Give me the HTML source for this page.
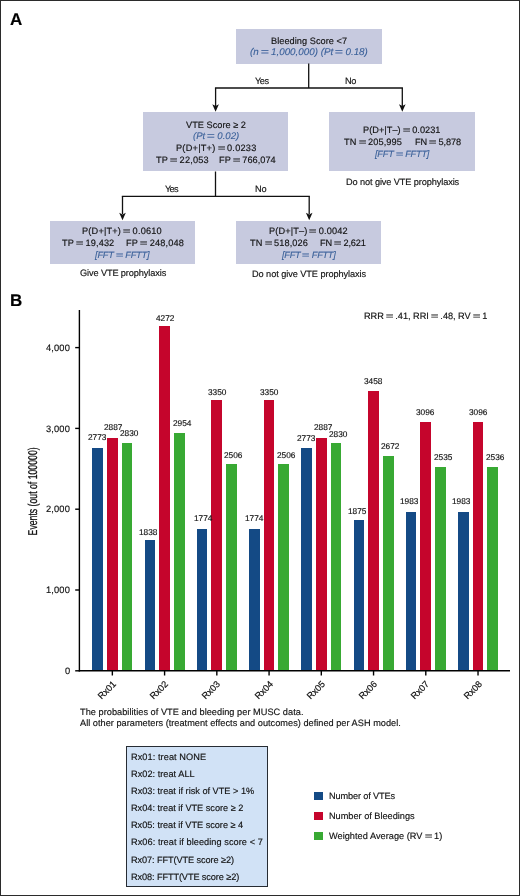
<!DOCTYPE html>
<html><head><meta charset="utf-8"><style>
html,body{margin:0;padding:0;background:#fff;}
#c{position:relative;width:520px;height:896px;overflow:hidden;background:#fff;font-family:'Liberation Sans', sans-serif;}
.t{position:absolute;white-space:pre;line-height:1;will-change:transform;text-rendering:geometricPrecision;-webkit-text-stroke:0.15px currentColor;}
.r{position:absolute;}
.eq{display:inline-block;text-align:center;letter-spacing:0;}
.eq>i{display:inline-block;font-style:normal;transform:scaleX(1.45);}
.u{position:absolute;white-space:pre;-webkit-text-stroke:0.2px currentColor;text-rendering:geometricPrecision;filter:grayscale(1);}
#f{position:absolute;left:0;top:0;width:520px;height:896px;box-sizing:border-box;border:1px solid #2b2b2b;}
svg{position:absolute;left:0;top:0;}
</style></head><body><div id="c">
<div class="r" style="left:236.00px;top:29.30px;width:145.50px;height:34.30px;background:#c7cadf;"></div>
<div class="r" style="left:143.00px;top:112.30px;width:145.00px;height:59.20px;background:#c7cadf;"></div>
<div class="r" style="left:329.00px;top:112.30px;width:145.60px;height:59.20px;background:#c7cadf;"></div>
<div class="r" style="left:50.00px;top:221.00px;width:145.00px;height:42.80px;background:#c7cadf;"></div>
<div class="r" style="left:236.00px;top:221.00px;width:145.00px;height:42.80px;background:#c7cadf;"></div>
<div class="r" style="left:92.30px;top:448.00px;width:10.70px;height:222.80px;background:#144a85;"></div>
<div class="r" style="left:107.00px;top:438.10px;width:10.70px;height:232.70px;background:#c5052c;"></div>
<div class="r" style="left:121.70px;top:442.50px;width:10.70px;height:228.30px;background:#38a933;"></div>
<div class="r" style="left:144.54px;top:539.90px;width:10.70px;height:130.90px;background:#144a85;"></div>
<div class="r" style="left:159.24px;top:325.80px;width:10.70px;height:345.00px;background:#c5052c;"></div>
<div class="r" style="left:173.94px;top:432.60px;width:10.70px;height:238.20px;background:#38a933;"></div>
<div class="r" style="left:196.78px;top:529.00px;width:10.70px;height:141.80px;background:#144a85;"></div>
<div class="r" style="left:211.48px;top:400.20px;width:10.70px;height:270.60px;background:#c5052c;"></div>
<div class="r" style="left:226.18px;top:463.90px;width:10.70px;height:206.90px;background:#38a933;"></div>
<div class="r" style="left:249.02px;top:529.00px;width:10.70px;height:141.80px;background:#144a85;"></div>
<div class="r" style="left:263.72px;top:400.20px;width:10.70px;height:270.60px;background:#c5052c;"></div>
<div class="r" style="left:278.42px;top:464.00px;width:10.70px;height:206.80px;background:#38a933;"></div>
<div class="r" style="left:301.26px;top:448.00px;width:10.70px;height:222.80px;background:#144a85;"></div>
<div class="r" style="left:315.96px;top:438.10px;width:10.70px;height:232.70px;background:#c5052c;"></div>
<div class="r" style="left:330.66px;top:442.60px;width:10.70px;height:228.20px;background:#38a933;"></div>
<div class="r" style="left:353.50px;top:520.30px;width:10.70px;height:150.50px;background:#144a85;"></div>
<div class="r" style="left:368.20px;top:391.00px;width:10.70px;height:279.80px;background:#c5052c;"></div>
<div class="r" style="left:382.90px;top:455.50px;width:10.70px;height:215.30px;background:#38a933;"></div>
<div class="r" style="left:405.74px;top:511.90px;width:10.70px;height:158.90px;background:#144a85;"></div>
<div class="r" style="left:420.44px;top:421.80px;width:10.70px;height:249.00px;background:#c5052c;"></div>
<div class="r" style="left:435.14px;top:466.70px;width:10.70px;height:204.10px;background:#38a933;"></div>
<div class="r" style="left:457.98px;top:511.90px;width:10.70px;height:158.90px;background:#144a85;"></div>
<div class="r" style="left:472.68px;top:421.90px;width:10.70px;height:248.90px;background:#c5052c;"></div>
<div class="r" style="left:487.38px;top:466.70px;width:10.70px;height:204.10px;background:#38a933;"></div>
<div class="r" style="left:126.00px;top:745.80px;width:142.00px;height:140.80px;background:#d1e2f6;border:1.6px solid #272c33;box-sizing:border-box;"></div>
<div class="r" style="left:314.20px;top:791.70px;width:9.30px;height:8.50px;background:#144a85;"></div>
<div class="r" style="left:314.20px;top:811.70px;width:9.30px;height:8.50px;background:#c5052c;"></div>
<div class="r" style="left:314.20px;top:831.70px;width:9.30px;height:8.50px;background:#38a933;"></div>
<div class="t" style="left:10.00px;top:10.80px;font-size:17px;color:#000;letter-spacing:0.000px;font-weight:bold;">A</div>
<div class="t" style="left:10.00px;top:291.50px;font-size:17px;color:#000;letter-spacing:0.000px;font-weight:bold;">B</div>
<div class="t" style="left:271.25px;top:36.90px;font-size:9.2px;color:#111111;letter-spacing:0.047px;">Bleeding Score &lt;7</div>
<div class="t" style="left:250.30px;top:48.10px;font-size:9.8px;color:#3a6099;letter-spacing:0.009px;font-style:italic;-webkit-text-stroke:0.1px currentColor;">(n<span class="eq" style="width:12.25px"><i>=</i></span>1,000,000) (Pt<span class="eq" style="width:12.25px"><i>=</i></span>0.18)</div>
<div class="t" style="left:254.90px;top:76.70px;font-size:9.2px;color:#111111;letter-spacing:-0.450px;">Yes</div>
<div class="t" style="left:345.10px;top:76.80px;font-size:9.2px;color:#111111;letter-spacing:-0.400px;">No</div>
<div class="t" style="left:186.10px;top:120.80px;font-size:9.2px;color:#111111;letter-spacing:0.025px;">VTE Score ≥ 2</div>
<div class="t" style="left:192.80px;top:132.00px;font-size:9.6px;color:#3a6099;letter-spacing:0.012px;font-style:italic;-webkit-text-stroke:0.1px currentColor;">(Pt<span class="eq" style="width:12.00px"><i>=</i></span>0.02)</div>
<div class="t" style="left:175.60px;top:144.40px;font-size:9.2px;color:#111111;letter-spacing:0.236px;">P(D+|T+)<span class="eq" style="width:11.50px"><i>=</i></span>0.0233</div>
<div class="t" style="left:155.80px;top:155.80px;font-size:9.2px;color:#111111;letter-spacing:0.175px;">TP<span class="eq" style="width:11.50px"><i>=</i></span>22,053</div>
<div class="t" style="left:218.90px;top:155.80px;font-size:9.2px;color:#111111;letter-spacing:0.033px;">FP<span class="eq" style="width:11.50px"><i>=</i></span>766,074</div>
<div class="t" style="left:362.90px;top:125.70px;font-size:9.2px;color:#111111;letter-spacing:0.036px;">P(D+|T–)<span class="eq" style="width:11.50px"><i>=</i></span>0.0231</div>
<div class="t" style="left:344.30px;top:137.50px;font-size:9.2px;color:#111111;letter-spacing:0.111px;">TN<span class="eq" style="width:11.50px"><i>=</i></span>205,995</div>
<div class="t" style="left:414.60px;top:137.50px;font-size:9.2px;color:#111111;letter-spacing:-0.114px;">FN<span class="eq" style="width:11.50px"><i>=</i></span>5,878</div>
<div class="t" style="left:375.30px;top:149.60px;font-size:9.2px;color:#3a6099;letter-spacing:-0.189px;font-style:italic;-webkit-text-stroke:0.1px currentColor;">[FFT<span class="eq" style="width:11.50px"><i>=</i></span>FFTT]</div>
<div class="t" style="left:345.50px;top:177.50px;font-size:9.2px;color:#111111;letter-spacing:-0.106px;">Do not give VTE prophylaxis</div>
<div class="t" style="left:164.50px;top:184.60px;font-size:9.2px;color:#111111;letter-spacing:-0.750px;">Yes</div>
<div class="t" style="left:254.50px;top:184.60px;font-size:9.2px;color:#111111;letter-spacing:-0.250px;">No</div>
<div class="t" style="left:82.40px;top:227.00px;font-size:9.2px;color:#111111;letter-spacing:0.186px;">P(D+|T+)<span class="eq" style="width:11.50px"><i>=</i></span>0.0610</div>
<div class="t" style="left:61.50px;top:238.80px;font-size:9.2px;color:#111111;letter-spacing:0.125px;">TP<span class="eq" style="width:11.50px"><i>=</i></span>19,432</div>
<div class="t" style="left:125.80px;top:238.80px;font-size:9.2px;color:#111111;letter-spacing:0.189px;">FP<span class="eq" style="width:11.50px"><i>=</i></span>248,048</div>
<div class="t" style="left:95.40px;top:250.80px;font-size:9.2px;color:#3a6099;letter-spacing:-0.167px;font-style:italic;-webkit-text-stroke:0.1px currentColor;">[FFT<span class="eq" style="width:11.50px"><i>=</i></span>FFTT]</div>
<div class="t" style="left:80.30px;top:269.30px;font-size:9.2px;color:#111111;letter-spacing:-0.111px;">Give VTE prophylaxis</div>
<div class="t" style="left:269.30px;top:227.10px;font-size:9.2px;color:#111111;letter-spacing:0.121px;">P(D+|T–)<span class="eq" style="width:11.50px"><i>=</i></span>0.0042</div>
<div class="t" style="left:250.40px;top:239.00px;font-size:9.2px;color:#111111;letter-spacing:0.111px;">TN<span class="eq" style="width:11.50px"><i>=</i></span>518,026</div>
<div class="t" style="left:320.40px;top:239.00px;font-size:9.2px;color:#111111;letter-spacing:-0.157px;">FN<span class="eq" style="width:11.50px"><i>=</i></span>2,621</div>
<div class="t" style="left:282.00px;top:251.00px;font-size:9.2px;color:#3a6099;letter-spacing:-0.267px;font-style:italic;-webkit-text-stroke:0.1px currentColor;">[FFT<span class="eq" style="width:11.50px"><i>=</i></span>FFTT]</div>
<div class="t" style="left:252.00px;top:269.75px;font-size:9.2px;color:#111111;letter-spacing:-0.067px;">Do not give VTE prophylaxis</div>
<div class="t" style="left:64.60px;top:667.00px;font-size:9.3px;color:#111111;letter-spacing:0.000px;">0</div>
<div class="t" style="left:46.20px;top:586.20px;font-size:9.3px;color:#111111;letter-spacing:0.150px;">1,000</div>
<div class="t" style="left:46.20px;top:505.40px;font-size:9.3px;color:#111111;letter-spacing:0.150px;">2,000</div>
<div class="t" style="left:46.20px;top:424.60px;font-size:9.3px;color:#111111;letter-spacing:0.150px;">3,000</div>
<div class="t" style="left:46.20px;top:343.80px;font-size:9.3px;color:#111111;letter-spacing:0.150px;">4,000</div>
<div class="t" style="left:88.20px;top:433.30px;font-size:8.3px;color:#111111;letter-spacing:0.000px;">2773</div>
<div class="t" style="left:103.80px;top:423.00px;font-size:8.3px;color:#111111;letter-spacing:0.000px;">2887</div>
<div class="t" style="left:119.70px;top:428.90px;font-size:8.3px;color:#111111;letter-spacing:0.000px;">2830</div>
<div class="t" style="left:138.90px;top:527.70px;font-size:8.3px;color:#111111;letter-spacing:0.000px;">1838</div>
<div class="t" style="left:155.80px;top:314.20px;font-size:8.3px;color:#111111;letter-spacing:0.000px;">4272</div>
<div class="t" style="left:173.00px;top:418.70px;font-size:8.3px;color:#111111;letter-spacing:0.000px;">2954</div>
<div class="t" style="left:193.80px;top:514.30px;font-size:8.3px;color:#111111;letter-spacing:0.000px;">1774</div>
<div class="t" style="left:207.80px;top:388.00px;font-size:8.3px;color:#111111;letter-spacing:0.000px;">3350</div>
<div class="t" style="left:223.90px;top:450.70px;font-size:8.3px;color:#111111;letter-spacing:0.000px;">2506</div>
<div class="t" style="left:244.50px;top:514.40px;font-size:8.3px;color:#111111;letter-spacing:0.000px;">1774</div>
<div class="t" style="left:259.80px;top:388.00px;font-size:8.3px;color:#111111;letter-spacing:0.000px;">3350</div>
<div class="t" style="left:276.90px;top:450.50px;font-size:8.3px;color:#111111;letter-spacing:0.000px;">2506</div>
<div class="t" style="left:296.90px;top:433.50px;font-size:8.3px;color:#111111;letter-spacing:0.000px;">2773</div>
<div class="t" style="left:314.00px;top:423.40px;font-size:8.3px;color:#111111;letter-spacing:0.000px;">2887</div>
<div class="t" style="left:328.70px;top:430.40px;font-size:8.3px;color:#111111;letter-spacing:0.000px;">2830</div>
<div class="t" style="left:347.50px;top:506.80px;font-size:8.3px;color:#111111;letter-spacing:0.000px;">1875</div>
<div class="t" style="left:363.80px;top:376.80px;font-size:8.3px;color:#111111;letter-spacing:0.000px;">3458</div>
<div class="t" style="left:380.80px;top:441.80px;font-size:8.3px;color:#111111;letter-spacing:0.000px;">2672</div>
<div class="t" style="left:399.80px;top:497.10px;font-size:8.3px;color:#111111;letter-spacing:0.000px;">1983</div>
<div class="t" style="left:416.00px;top:407.80px;font-size:8.3px;color:#111111;letter-spacing:0.000px;">3096</div>
<div class="t" style="left:433.75px;top:452.80px;font-size:8.3px;color:#111111;letter-spacing:0.000px;">2535</div>
<div class="t" style="left:451.80px;top:497.10px;font-size:8.3px;color:#111111;letter-spacing:0.000px;">1983</div>
<div class="t" style="left:469.00px;top:407.80px;font-size:8.3px;color:#111111;letter-spacing:0.000px;">3096</div>
<div class="t" style="left:486.00px;top:453.00px;font-size:8.3px;color:#111111;letter-spacing:0.000px;">2536</div>
<div class="t" style="left:363.80px;top:311.60px;font-size:9.2px;color:#111111;letter-spacing:-0.024px;">RRR<span class="eq" style="width:11.50px"><i>=</i></span>.41, RRI<span class="eq" style="width:11.50px"><i>=</i></span>.48, RV<span class="eq" style="width:11.50px"><i>=</i></span>1</div>
<div class="t" style="left:80.20px;top:707.50px;font-size:9.2px;color:#111111;letter-spacing:0.035px;">The probabilities of VTE and bleeding per MUSC data.</div>
<div class="t" style="left:80.20px;top:719.10px;font-size:9.2px;color:#111111;letter-spacing:0.017px;">All other parameters (treatment effects and outcomes) defined per ASH model.</div>
<div class="t" style="left:131.10px;top:752.90px;font-size:9.2px;color:#111111;letter-spacing:0.073px;">Rx01: treat NONE</div>
<div class="t" style="left:131.10px;top:770.00px;font-size:9.2px;color:#111111;letter-spacing:0.021px;">Rx02: treat ALL</div>
<div class="t" style="left:131.10px;top:787.10px;font-size:9.2px;color:#111111;letter-spacing:-0.003px;">Rx03: treat if risk of VTE &gt; 1%</div>
<div class="t" style="left:131.10px;top:804.20px;font-size:9.2px;color:#111111;letter-spacing:-0.015px;">Rx04: treat if VTE score ≥ 2</div>
<div class="t" style="left:131.10px;top:821.30px;font-size:9.2px;color:#111111;letter-spacing:-0.022px;">Rx05: treat if VTE score ≥ 4</div>
<div class="t" style="left:131.10px;top:838.40px;font-size:9.2px;color:#111111;letter-spacing:0.056px;">Rx06: treat if bleeding score &lt; 7</div>
<div class="t" style="left:131.10px;top:855.50px;font-size:9.2px;color:#111111;letter-spacing:-0.095px;">Rx07: FFT(VTE score ≥2)</div>
<div class="t" style="left:131.10px;top:872.60px;font-size:9.2px;color:#111111;letter-spacing:-0.109px;">Rx08: FFTT(VTE score ≥2)</div>
<div class="t" style="left:328.60px;top:791.80px;font-size:9.2px;color:#111111;letter-spacing:-0.138px;">Number of VTEs</div>
<div class="t" style="left:328.60px;top:811.80px;font-size:9.2px;color:#111111;letter-spacing:-0.011px;">Number of Bleedings</div>
<div class="t" style="left:328.60px;top:831.80px;font-size:9.2px;color:#111111;letter-spacing:0.027px;">Weighted Average (RV<span class="eq" style="width:11.50px"><i>=</i></span>1)</div>
<div class="u" style="left:10.95px;top:679.20px;width:100px;text-align:right;font-size:9.2px;color:#111111;transform:rotate(-45deg);transform-origin:100px 0px;line-height:10px;">Rx01</div>
<div class="u" style="left:63.19px;top:679.20px;width:100px;text-align:right;font-size:9.2px;color:#111111;transform:rotate(-45deg);transform-origin:100px 0px;line-height:10px;">Rx02</div>
<div class="u" style="left:115.43px;top:679.20px;width:100px;text-align:right;font-size:9.2px;color:#111111;transform:rotate(-45deg);transform-origin:100px 0px;line-height:10px;">Rx03</div>
<div class="u" style="left:167.67px;top:679.20px;width:100px;text-align:right;font-size:9.2px;color:#111111;transform:rotate(-45deg);transform-origin:100px 0px;line-height:10px;">Rx04</div>
<div class="u" style="left:219.91px;top:679.20px;width:100px;text-align:right;font-size:9.2px;color:#111111;transform:rotate(-45deg);transform-origin:100px 0px;line-height:10px;">Rx05</div>
<div class="u" style="left:272.15px;top:679.20px;width:100px;text-align:right;font-size:9.2px;color:#111111;transform:rotate(-45deg);transform-origin:100px 0px;line-height:10px;">Rx06</div>
<div class="u" style="left:324.39px;top:679.20px;width:100px;text-align:right;font-size:9.2px;color:#111111;transform:rotate(-45deg);transform-origin:100px 0px;line-height:10px;">Rx07</div>
<div class="u" style="left:376.63px;top:679.20px;width:100px;text-align:right;font-size:9.2px;color:#111111;transform:rotate(-45deg);transform-origin:100px 0px;line-height:10px;">Rx08</div>
<div class="u" style="left:-30.94px;top:485.10px;width:129.48px;height:12.8px;line-height:1;font-size:12.8px;color:#111111;transform:rotate(-90deg) scaleX(0.68);transform-origin:50% 50%;-webkit-text-stroke:0.3px currentColor;">Events (out of 100000)</div>
<svg width="520" height="896" viewBox="0 0 520 896"><line x1="308.70" y1="63.60" x2="308.70" y2="88.00" stroke="#111111" stroke-width="1.3"/><line x1="214.95" y1="88.00" x2="402.95" y2="88.00" stroke="#111111" stroke-width="1.3"/><line x1="215.60" y1="88.00" x2="215.60" y2="106.00" stroke="#111111" stroke-width="1.3"/><line x1="402.30" y1="88.00" x2="402.30" y2="106.00" stroke="#111111" stroke-width="1.3"/><path d="M212.30,104.30 L215.60,111.80 L218.90,104.30 L215.60,106.00 Z" fill="#111111"/><path d="M399.00,104.30 L402.30,111.80 L405.60,104.30 L402.30,106.00 Z" fill="#111111"/><line x1="215.50" y1="171.50" x2="215.50" y2="196.30" stroke="#111111" stroke-width="1.3"/><line x1="121.85" y1="196.30" x2="309.85" y2="196.30" stroke="#111111" stroke-width="1.3"/><line x1="122.50" y1="196.30" x2="122.50" y2="214.00" stroke="#111111" stroke-width="1.3"/><line x1="309.20" y1="196.30" x2="309.20" y2="214.00" stroke="#111111" stroke-width="1.3"/><path d="M119.20,212.80 L122.50,220.30 L125.80,212.80 L122.50,214.50 Z" fill="#111111"/><path d="M305.90,212.80 L309.20,220.30 L312.50,212.80 L309.20,214.50 Z" fill="#111111"/><line x1="79.40" y1="310.00" x2="79.40" y2="671.50" stroke="#000" stroke-width="1.4"/><line x1="78.70" y1="670.80" x2="510.00" y2="670.80" stroke="#000" stroke-width="1.4"/><line x1="75.20" y1="670.80" x2="79.40" y2="670.80" stroke="#000" stroke-width="1.4"/><line x1="75.20" y1="590.00" x2="79.40" y2="590.00" stroke="#000" stroke-width="1.4"/><line x1="75.20" y1="509.20" x2="79.40" y2="509.20" stroke="#000" stroke-width="1.4"/><line x1="75.20" y1="428.40" x2="79.40" y2="428.40" stroke="#000" stroke-width="1.4"/><line x1="75.20" y1="347.60" x2="79.40" y2="347.60" stroke="#000" stroke-width="1.4"/><line x1="112.35" y1="670.80" x2="112.35" y2="675.50" stroke="#000" stroke-width="1.4"/><line x1="164.59" y1="670.80" x2="164.59" y2="675.50" stroke="#000" stroke-width="1.4"/><line x1="216.83" y1="670.80" x2="216.83" y2="675.50" stroke="#000" stroke-width="1.4"/><line x1="269.07" y1="670.80" x2="269.07" y2="675.50" stroke="#000" stroke-width="1.4"/><line x1="321.31" y1="670.80" x2="321.31" y2="675.50" stroke="#000" stroke-width="1.4"/><line x1="373.55" y1="670.80" x2="373.55" y2="675.50" stroke="#000" stroke-width="1.4"/><line x1="425.79" y1="670.80" x2="425.79" y2="675.50" stroke="#000" stroke-width="1.4"/><line x1="478.03" y1="670.80" x2="478.03" y2="675.50" stroke="#000" stroke-width="1.4"/></svg>
<div id="f"></div>
</div></body></html>
